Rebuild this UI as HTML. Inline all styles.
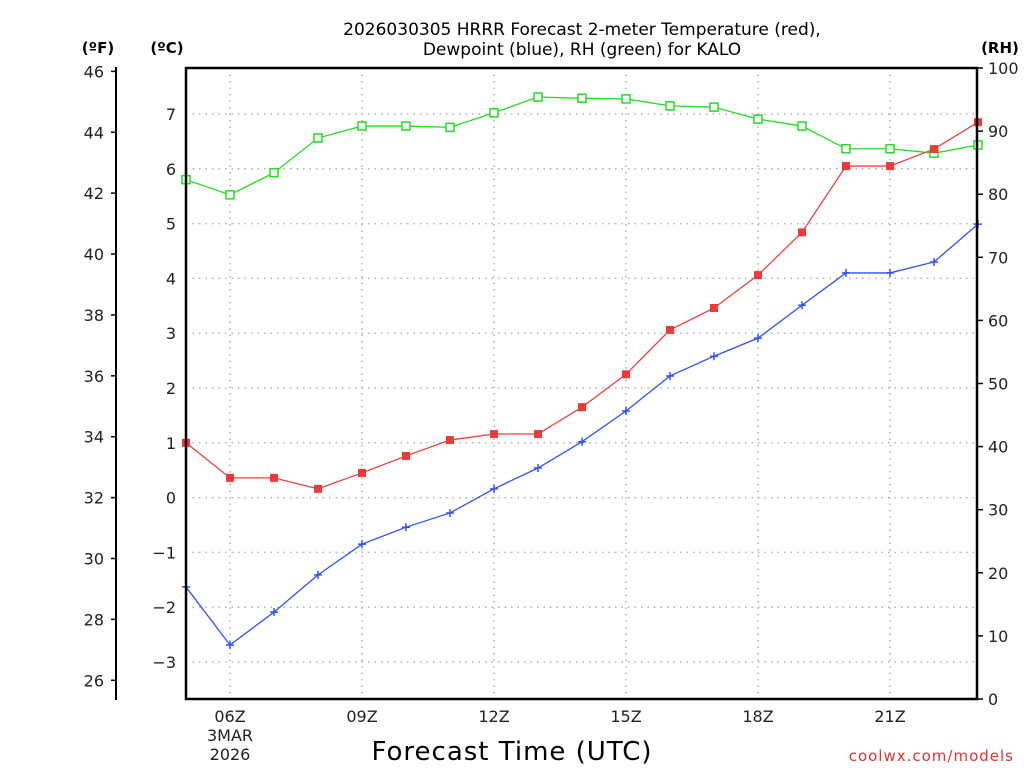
<!DOCTYPE html>
<html><head><meta charset="utf-8"><style>
body{margin:0;background:#fff;}
svg{display:block;font-family:"DejaVu Sans","Liberation Sans",sans-serif;}
</style></head><body>
<svg id="c" width="1024" height="768" viewBox="0 0 1024 768">
<text x="582" y="35" text-anchor="middle" font-size="17" fill="#000">2026030305 HRRR Forecast 2-meter Temperature (red),</text>
<text x="582" y="55" text-anchor="middle" font-size="17" fill="#000">Dewpoint (blue), RH (green) for KALO</text>
<text x="98" y="53" text-anchor="middle" font-size="15" font-weight="bold">(ºF)</text>
<text x="167" y="53" text-anchor="middle" font-size="15" font-weight="bold">(ºC)</text>
<text x="1000" y="53" text-anchor="middle" font-size="15" font-weight="bold">(RH)</text>
<text x="512" y="760" text-anchor="middle" font-size="26" letter-spacing="1">Forecast Time (UTC)</text>
<text x="1014" y="761" text-anchor="end" font-size="15" fill="#e83030" letter-spacing="1">coolwx.com/models</text>
<g id="grid"></g><g id="axes"></g><g id="series"></g>
<rect x="186" y="68" width="791" height="631" fill="none" stroke="#000" stroke-width="2.5"/>
</svg>
<script>
const hours=[5,6,7,8,9,10,11,12,13,14,15,16,17,18,19,20,21,22,23];
const tempC=[1.0,0.36,0.36,0.16,0.45,0.76,1.05,1.16,1.16,1.65,2.25,3.06,3.46,4.06,4.84,6.05,6.05,6.36,6.85];
const dewC=[-1.63,-2.69,-2.09,-1.41,-0.85,-0.54,-0.28,0.16,0.54,1.02,1.58,2.22,2.58,2.91,3.51,4.10,4.10,4.30,4.99];
const rh=[82.3,79.9,83.4,88.9,90.8,90.8,90.6,92.9,95.4,95.2,95.1,94.0,93.8,91.9,90.8,87.2,87.2,86.5,87.8];
const xTickHours=[6,9,12,15,18,21];
const xTickLabels=["06Z","09Z","12Z","15Z","18Z","21Z"];
const cTicks=[-3,-2,-1,0,1,2,3,4,5,6,7];
const fTicks=[26,28,30,32,34,36,38,40,42,44,46];
const rhTicks=[0,10,20,30,40,50,60,70,80,90,100];

const NS="http://www.w3.org/2000/svg";
const X=h=>186+(h-5)*44;
const YC=c=>497.6-c*54.8;
const YF=f=>YC((f-32)/1.8);
const YR=r=>699-r*6.31;
function mk(tag,attrs,parent){const e=document.createElementNS(NS,tag);for(const k in attrs)e.setAttribute(k,attrs[k]);parent.appendChild(e);return e;}
const grid=document.getElementById('grid'),axes=document.getElementById('axes'),ser=document.getElementById('series');
const g={stroke:"#b0b0b0","stroke-width":1.5,"stroke-dasharray":"1.5 5"};
cTicks.forEach(c=>{
 const l=mk('line',Object.assign({x1:186,x2:977,y1:YC(c),y2:YC(c)},g),grid);
 
 
 const t=mk('text',{x:176,y:YC(c)+6,"text-anchor":"end","font-size":16,fill:"#222"},axes);
 t.textContent=c<0?"−"+(-c):String(c);
 
 
});
xTickHours.forEach((h,i)=>{
 const l=mk('line',Object.assign({x1:X(h),x2:X(h),y1:68,y2:699},g),grid);
 
 
 const t=mk('text',{x:X(h),y:722,"text-anchor":"middle","font-size":16,fill:"#222"},axes);
 t.textContent=xTickLabels[i];
 
 
});
[["3MAR",741],["2026",760]].forEach(d=>{
 const t=mk('text',{x:X(6),y:d[1],"text-anchor":"middle","font-size":16,fill:"#222"},axes);
 t.textContent=d[0];
 
 
});
const fl=mk('line',{x1:116,x2:116,y1:67,y2:700,stroke:"#000","stroke-width":2},axes);


fTicks.forEach(f=>{
 const l=mk('line',{x1:111,x2:116,y1:YF(f),y2:YF(f),stroke:"#000","stroke-width":1.5},axes);
 
 
 const t=mk('text',{x:104,y:YF(f)+6,"text-anchor":"end","font-size":16,fill:"#222"},axes);
 t.textContent=f;
 
 
});
rhTicks.forEach(r=>{
 const l=mk('line',{x1:977,x2:983,y1:YR(r),y2:YR(r),stroke:"#000","stroke-width":1.5},axes);
 
 
 const t=mk('text',{x:988,y:YR(r)+6,"text-anchor":"start","font-size":16,fill:"#222"},axes);
 t.textContent=r;
 
 
});
function line(vals,yf,color,name){
 const p=mk('polyline',{points:vals.map((v,i)=>X(hours[i])+","+yf(v)).join(" "),fill:"none",stroke:color,"stroke-width":1.3},ser);
 
 
}
line(rh,YR,"#22dd22","rh");
line(tempC,YC,"#f04040","temperature");
line(dewC,YC,"#3050ff","dewpoint");
rh.forEach((v,i)=>{
 const r=mk('rect',{x:X(hours[i])-4,y:YR(v)-4,width:8,height:8,fill:"#fff",stroke:"#22dd22","stroke-width":1.5},ser);
 
 
});
tempC.forEach((v,i)=>{
 const r=mk('rect',{x:X(hours[i])-4,y:YC(v)-4,width:8,height:8,fill:"#f03a3a"},ser);
 
 
});
dewC.forEach((v,i)=>{
 const x=X(hours[i]),y=YC(v);
 const p=mk('path',{d:`M${x-4},${y}H${x+4}M${x},${y-4}V${y+4}`,stroke:"#3050ff","stroke-width":1.5},ser);
 
 
});
</script>
</body></html>
